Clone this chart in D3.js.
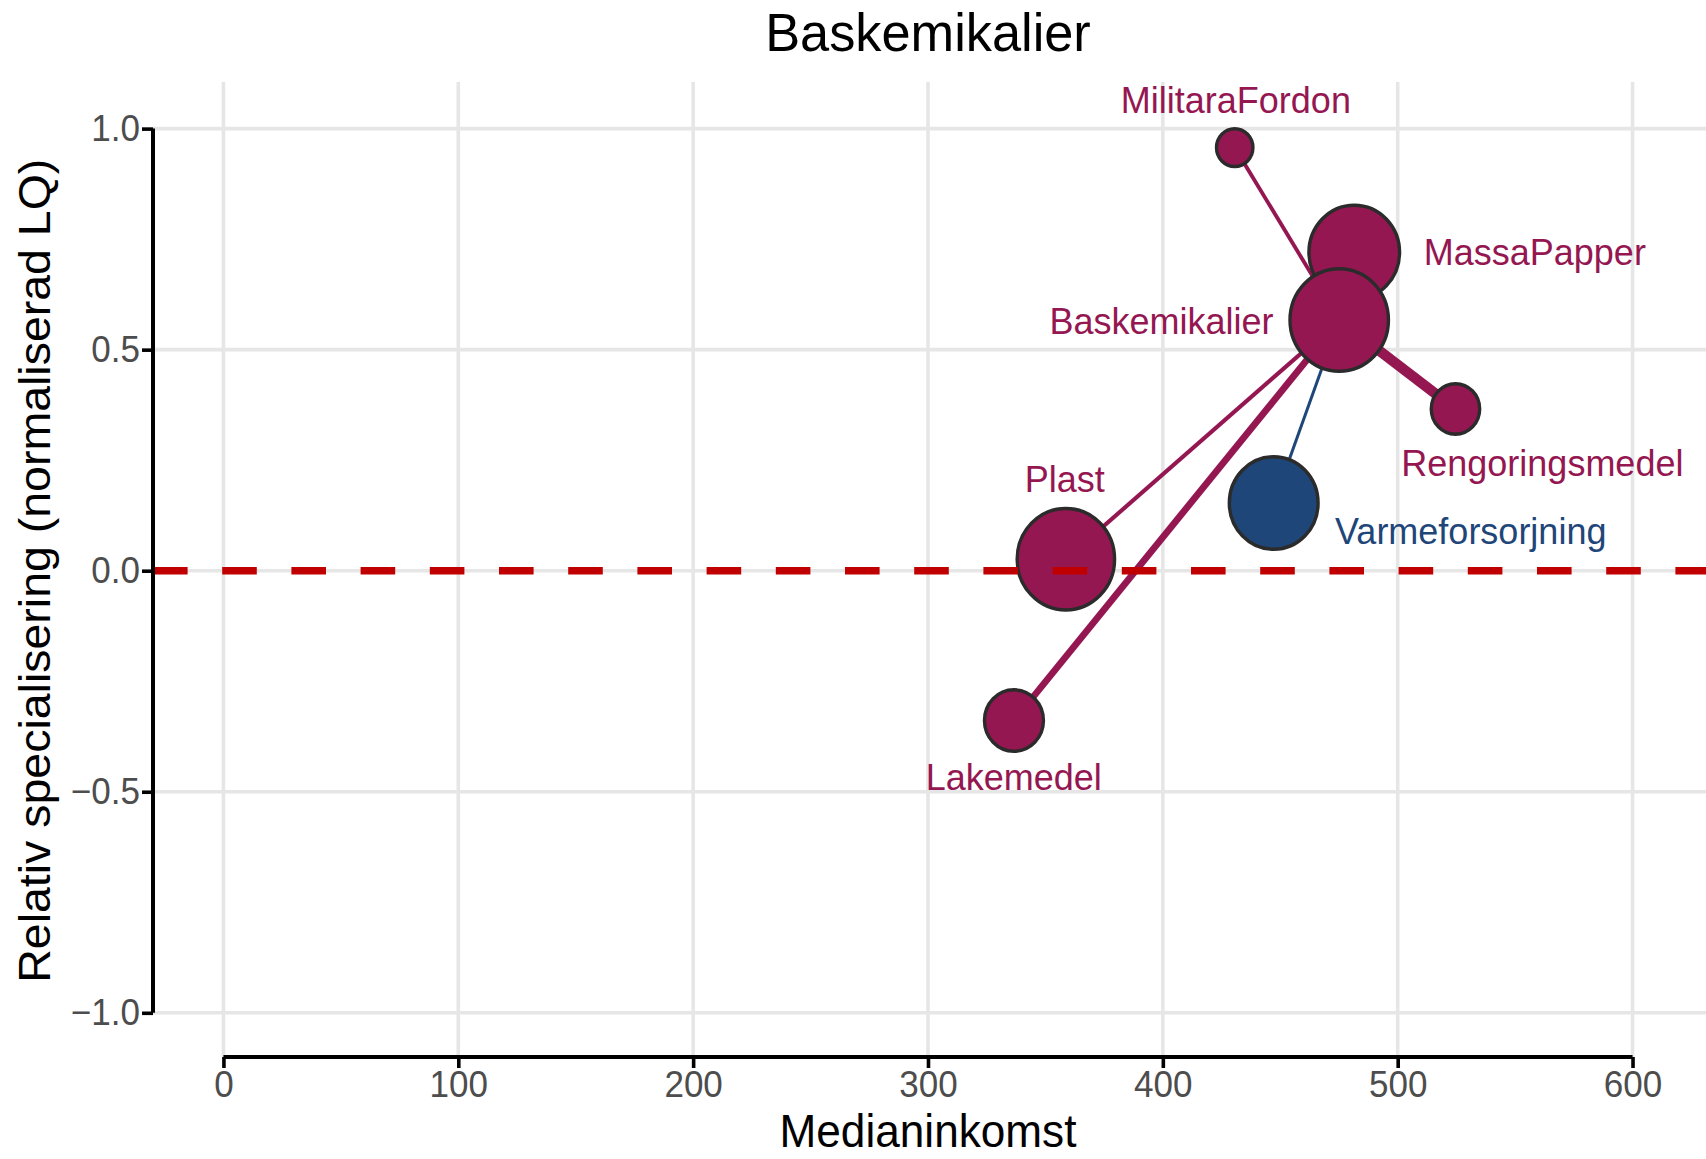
<!DOCTYPE html>
<html><head><meta charset="utf-8">
<script src="https://cdn.jsdelivr.net/npm/d3@7"></script>
<style>html,body{margin:0;padding:0;background:#fff;overflow:hidden}</style>
</head><body><div id="chart"></div>
<script>
// ---- data ----
const chartTitle = "Baskemikalier";
const xTitle = "Medianinkomst";
const yTitle = "Relativ specialisering (normaliserad LQ)";
const focalNode = "Baskemikalier";
const nodeNames = ["MilitaraFordon", "MassaPapper", "Rengoringsmedel", "Varmeforsorjning", "Plast", "Lakemedel", "Baskemikalier"];
const medianIncome = [430.6, 481.5, 524.6, 447.2, 358.7, 336.6, 475.1];
const relativeLQ = [0.957, 0.720, 0.366, 0.153, 0.026, -0.339, 0.567];
const nodeSize = [13.7, 84.8, 24.2, 81.3, 97.9, 35.9, 100];
const nodeGroup = ["kemi", "kemi", "kemi", "energi", "kemi", "kemi", "kemi"];
const linkWeight = [0.38, 0.45, 1.0, 0.3, 0.4, 0.66, null];
const labelIncome = [431.1, 558.4, 561.6, 531.1, 358.2, 336.5, 399.4];
const labelLQ = [1.065, 0.723, 0.2447, 0.0903, 0.209, -0.465, 0.567];
const groupNames = ["kemi", "energi"];
const groupColors = ["#941752", "#1f4679"];
const xTicks = [0, 100, 200, 300, 400, 500, 600];
const xTickLabels = ["0", "100", "200", "300", "400", "500", "600"];
const yTicks = [-1, -0.5, 0, 0.5, 1];
const yTickLabels = ["\u22121.0", "\u22120.5", "0.0", "0.5", "1.0"];
const refLine = 0;

// ---- layout ----
const W = 1706, H = 1159, SX = 0.96;
const VW = W / SX;
const vx = v => v / SX;
const pLeft = vx(153), pRight = vx(1703), pTop = 84.4, pBottom = 1057;
const FONT = "'Liberation Sans', Arial, Helvetica, sans-serif";

const svg = d3.select("#chart").append("svg")
  .attr("width", W).attr("height", H)
  .attr("viewBox", `0 0 ${VW} ${H}`)
  .attr("preserveAspectRatio", "none")
  .style("display", "block");

const x = d3.scaleLinear().domain([-30, 630]).range([pLeft, pRight]);
const y = d3.scaleLinear().domain([-1.1, 1.1]).range([pBottom, pTop]);
const rScale = d3.scaleSqrt().domain([0, 100]).range([0, 51.3]);
const wScale = d3.scaleLinear().domain([0, 1]).range([0, 10.5]);
const color = d3.scaleOrdinal().domain(groupNames).range(groupColors);

const nodes = nodeNames.map((n, i) => ({
  name: n, inc: medianIncome[i], lq: relativeLQ[i], size: nodeSize[i],
  group: nodeGroup[i], weight: linkWeight[i], lx: labelIncome[i], ly: labelLQ[i]
}));
const focal = nodes.find(d => d.name === focalNode);
const others = nodes.filter(d => d.name !== focalNode);

// gridlines
const grid = svg.append("g");
grid.selectAll(".hg").data(yTicks).join("line")
  .attr("x1", pLeft).attr("x2", VW).attr("y1", d => y(d)).attr("y2", d => y(d))
  .attr("stroke", "#e6e6e6").attr("stroke-width", 3.6);
grid.selectAll(".vg").data(xTicks).join("line")
  .attr("x1", d => x(d)).attr("x2", d => x(d)).attr("y1", 82).attr("y2", pBottom)
  .attr("stroke", "#e6e6e6").attr("stroke-width", 3.6 / SX);

// links
svg.append("g").selectAll("line").data(others).join("line")
  .attr("x1", x(focal.inc)).attr("y1", y(focal.lq))
  .attr("x2", d => x(d.inc)).attr("y2", d => y(d.lq))
  .attr("stroke", d => color(d.group))
  .attr("stroke-width", d => wScale(d.weight));

// nodes
svg.append("g").selectAll("circle").data(others.concat([focal])).join("circle")
  .attr("cx", d => x(d.inc)).attr("cy", d => y(d.lq)).attr("r", d => rScale(d.size))
  .attr("fill", d => color(d.group))
  .attr("stroke", "#2b2b2b").attr("stroke-width", 3.5);

// labels
svg.append("g").selectAll("text").data(nodes).join("text")
  .attr("x", d => x(d.lx)).attr("y", d => y(d.ly))
  .attr("dy", "0.36em")
  .attr("text-anchor", "middle")
  .attr("font-family", FONT).attr("font-size", 37.5)
  .attr("fill", d => color(d.group))
  .text(d => d.name);

// reference line
svg.append("line")
  .attr("x1", pLeft).attr("x2", pRight + vx(3))
  .attr("y1", y(refLine)).attr("y2", y(refLine))
  .attr("stroke", "#c00000").attr("stroke-width", 7.5)
  .attr("stroke-dasharray", `${vx(34.6)} ${vx(34.6)}`);

// axes
const gx = svg.append("g").attr("transform", `translate(0,${pBottom})`)
  .call(d3.axisBottom(x).tickValues(xTicks).tickFormat((d, i) => xTickLabels[i]).tickSize(11).tickPadding(3.5));
gx.select(".domain").remove();
gx.append("line").attr("x1", x(xTicks[0])).attr("x2", x(xTicks[xTicks.length - 1]))
  .attr("y1", 0).attr("y2", 0).attr("stroke", "#000").attr("stroke-width", 4);
gx.selectAll(".tick line").attr("stroke", "#000").attr("stroke-width", 3.6 / SX);
gx.selectAll(".tick text").attr("font-family", FONT).attr("font-size", 36.5).attr("fill", "#4d4d4d");

const gy = svg.append("g").attr("transform", `translate(${pLeft},0)`)
  .call(d3.axisLeft(y).tickValues(yTicks).tickFormat((d, i) => yTickLabels[i]).tickSize(vx(11)).tickPadding(vx(2)));
gy.select(".domain").remove();
gy.append("line").attr("x1", 0).attr("x2", 0)
  .attr("y1", y(yTicks[yTicks.length - 1])).attr("y2", y(yTicks[0]))
  .attr("stroke", "#000").attr("stroke-width", vx(4));
gy.selectAll(".tick line").attr("stroke", "#000").attr("stroke-width", 3.6);
gy.selectAll(".tick text").attr("font-family", FONT).attr("font-size", 36.5).attr("fill", "#4d4d4d");

// titles
svg.append("text").attr("x", (pLeft + pRight) / 2).attr("y", 51)
  .attr("text-anchor", "middle").attr("font-family", FONT).attr("font-size", 54.5)
  .attr("fill", "#000").text(chartTitle);
svg.append("text").attr("x", (pLeft + pRight) / 2).attr("y", 1147)
  .attr("text-anchor", "middle").attr("font-family", FONT).attr("font-size", 46)
  .attr("fill", "#000").text(xTitle);
svg.append("text").attr("transform", `translate(${vx(50)},${(pTop + pBottom) / 2}) rotate(-90)`)
  .attr("text-anchor", "middle").attr("font-family", FONT).attr("font-size", 46.5)
  .attr("fill", "#000").text(yTitle);
</script>
</body></html>
